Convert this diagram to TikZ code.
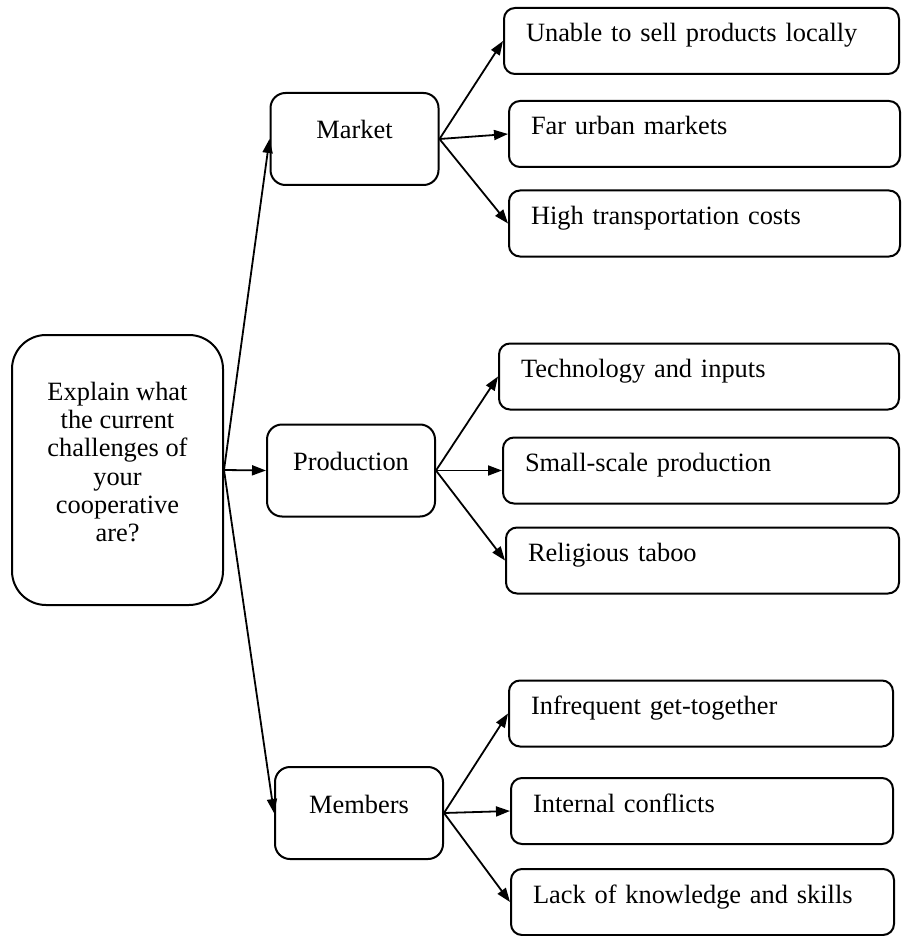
\documentclass[tikz,border=0pt]{standalone}
\usepackage{fontspec}
\setmainfont{Liberation Serif}
\usetikzlibrary{arrows.meta}

\tikzset{
    every node/.style={font=\fontsize{13.2}{14.1}\selectfont},
    rootbox/.style={draw, line width=1pt, rounded corners=17pt,
        minimum width=105.5pt, minimum height=135pt, inner sep=0pt},
    midbox/.style={draw, line width=1pt, rounded corners=7.5pt,
        minimum width=84pt, inner sep=0pt, text height=23pt, text depth=23pt},
    leafbox/.style={draw, line width=1pt, rounded corners=5.5pt, anchor=west,
        text width=#1, align=left, inner xsep=11pt, inner ysep=0pt,
        text height=17pt, text depth=16pt},
    link/.style={-{Triangle[length=7pt,width=5pt]}, line width=0.9pt}
}

\begin{document}
\begin{tikzpicture}[x=0.5pt, y=-0.5pt]
        % Fix the page to the size of the reference
        \useasboundingbox (0,0) rectangle (901,936);

        % The question box on the left
        \node[rootbox] (root) at (117.5,470) {};
        \node[align=center] (roottext) at (117.5,462)
            {Explain what\\the current\\challenges of\\your\\cooperative\\are?};

        % The three groups of challenges
        \node[midbox] (market) at (354.5,139) {Market};
        \node[midbox] (production) at (351,470.5) {Production};
        \node[midbox] (members) at (359,813) {Members};

        % Market challenges
        \node[leafbox=175.5pt] (m1) at (503,41) {Unable to sell products locally};
        \node[leafbox=173.5pt] (m2) at (508,134) {Far urban markets};
        \node[leafbox=173.5pt] (m3) at (508,223.5) {High transportation costs};

        % Production challenges
        \node[leafbox=178pt] (p1) at (498,376.5) {Technology and inputs};
        \node[leafbox=176pt] (p2) at (502,470.5) {Small-scale production};
        \node[leafbox=174.5pt] (p3) at (505,560.5) {Religious taboo};

        % Members challenges
        \node[leafbox=170pt] (b1) at (508,713.5) {Infrequent get-together};
        \node[leafbox=169pt] (b2) at (510,811) {Internal conflicts};
        \node[leafbox=169.5pt] (b3) at (510,902) {Lack of knowledge and skills};

        % Arrows from the question to the groups
        \draw[link] (root.east) -- (market.west);
        \draw[link] (root.east) -- (production.west);
        \draw[link] (root.east) -- (members.west);

        % Arrows from each group to its challenges
        \draw[link] (market.east) -- (m1.west);
        \draw[link] (market.east) -- (m2.west);
        \draw[link] (market.east) -- (m3.west);
        \draw[link] (production.east) -- (p1.west);
        \draw[link] (production.east) -- (p2.west);
        \draw[link] (production.east) -- (p3.west);
        \draw[link] (members.east) -- (b1.west);
        \draw[link] (members.east) -- (b2.west);
        \draw[link] (members.east) -- (b3.west);
\end{tikzpicture}
\end{document}
